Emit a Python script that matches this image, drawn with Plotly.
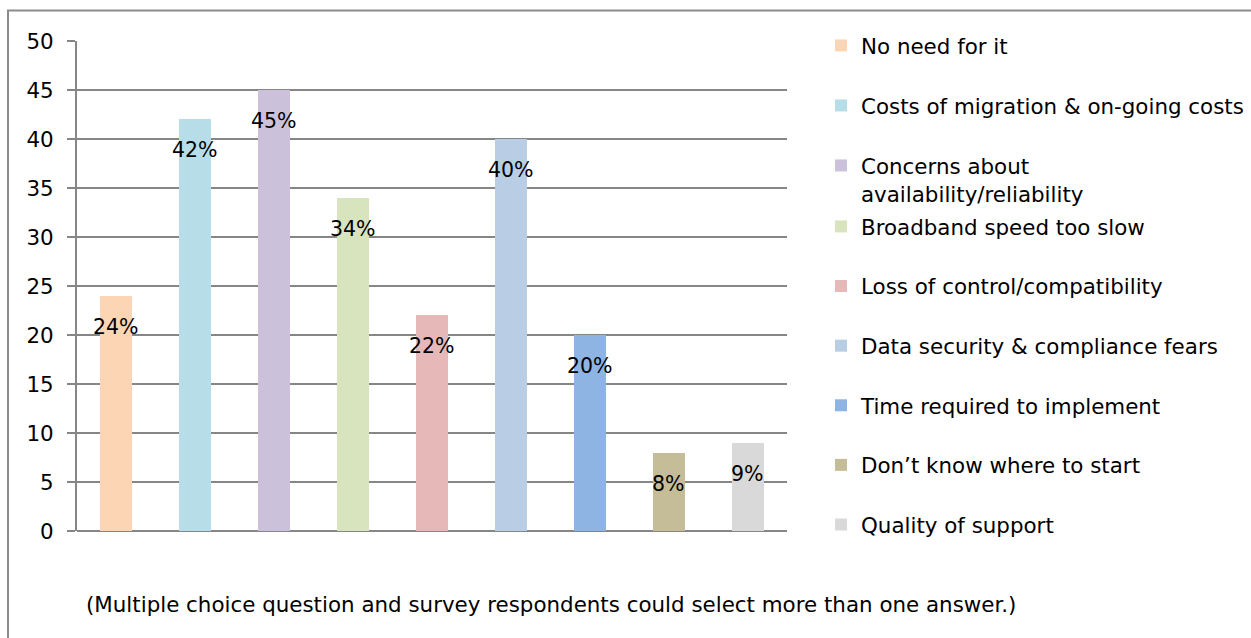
import plotly.graph_objects as go

# Survey reasons (one coloured bar per reason)
reasons = [
    "No need for it",
    "Costs of migration & on-going costs",
    "Concerns about<br>availability/reliability",
    "Broadband speed too slow",
    "Loss of control/compatibility",
    "Data security & compliance fears",
    "Time required to implement",
    "Don\u2019t know where to start",
    "Quality of support",
]
percent = [24, 42, 45, 34, 22, 40, 20, 8, 9]
colors = ["#FCD5B5", "#B7DEE8", "#CCC1DA", "#D7E4BD", "#E6B9B8",
          "#B9CDE5", "#8EB4E3", "#C4BD97", "#D9D9D9"]
y_ticks = [0, 5, 10, 15, 20, 25, 30, 35, 40, 45, 50]
footnote = "(Multiple choice question and survey respondents could select more than one answer.)"

W, H = 1251, 638
ML, MR, MT, MB = 77, 464, 41, 107
PW, PH = W - ML - MR, H - MT - MB
FONT = "DejaVu Sans"
FS = 21.4
GRID = "#868686"


def px_x(x):
    return (x - ML) / PW


def px_y(y):
    return (H - MB - y) / PH


fig = go.Figure()
for i, (name, val, col) in enumerate(zip(reasons, percent, colors)):
    fig.add_trace(go.Bar(
        x=[i], y=[val], name=name, width=0.405,
        marker=dict(color=col, line=dict(width=0)),
        legendgroup=f"g{i}",
        legend="legend" if i < 3 else "legend2",
        hoverinfo="skip",
    ))
    fig.add_annotation(
        x=i, y=val, text=f"{val}%", showarrow=False,
        xref="x", yref="y", yanchor="middle", yshift=-31,
        font=dict(family=FONT, size=20.5, color="#000000"),
    )

fig.add_annotation(
    x=px_x(84), y=px_y(604), xref="paper", yref="paper",
    xanchor="left", yanchor="middle", showarrow=False,
    text=footnote, font=dict(family=FONT, size=FS, color="#000000"),
)

# outer chart frame
fig.add_shape(
    type="rect", xref="paper", yref="paper",
    x0=px_x(8), x1=px_x(1270), y0=px_y(660), y1=px_y(10.5),
    line=dict(color="#8c8c8c", width=2), fillcolor="rgba(0,0,0,0)", layer="below",
)

legend_common = dict(
    font=dict(family=FONT, size=FS, color="#000000"),
    bgcolor="rgba(0,0,0,0)", borderwidth=0,
    traceorder="grouped",
    valign="top", xanchor="left", yanchor="top",
    itemclick=False, itemdoubleclick=False,
)

fig.update_layout(
    width=W, height=H,
    margin=dict(l=ML, r=MR, t=MT, b=MB, pad=0, autoexpand=False),
    paper_bgcolor="white", plot_bgcolor="white",
    barmode="overlay", bargap=0,
    showlegend=True,
    legend=dict(x=px_x(821), y=px_y(25), tracegroupgap=29.2, **legend_common),
    legend2=dict(x=px_x(821), y=px_y(206), tracegroupgap=28.8, **legend_common),
    xaxis=dict(
        range=[-0.5, 8.5], showticklabels=False, ticks="",
        showgrid=False, zeroline=False, showline=False, fixedrange=True,
    ),
    yaxis=dict(
        range=[0, 50], tickvals=y_ticks, ticks="outside", ticklen=8,
        tickcolor=GRID, tickwidth=2, showgrid=True, gridcolor=GRID,
        gridwidth=2, zeroline=True, zerolinecolor=GRID, zerolinewidth=2,
        showline=True, linecolor=GRID, linewidth=2,
        tickfont=dict(family=FONT, size=FS, color="#000000"),
        ticklabelstandoff=9, fixedrange=True,
    ),
)

fig.write_html("out.html", config={"displayModeBar": False})
